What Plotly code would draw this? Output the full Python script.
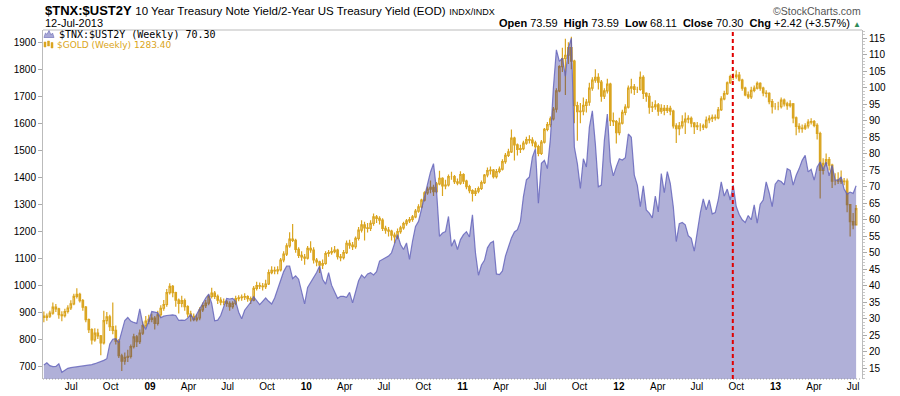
import plotly.graph_objects as go
import pandas as pd

# ---------------- data (weekly, first bar = week of 2008-04-28) ----------------
first_week = "2008-04-28"

# $TNX:$UST2Y weekly close (right axis)
ratio = [
    16.0, 16.7, 15.8, 15.5, 15.6, 16.4, 13.8, 14.5, 15.0, 15.2,
    15.3, 15.4, 15.5, 15.6, 15.7, 15.9, 16.1, 16.4, 16.7, 17.0,
    17.4, 17.9, 22.4, 23.8, 24.0, 22.8, 26.5, 29.5, 30.4, 29.3,
    28.9, 28.6, 33.0, 28.5, 26.8, 29.5, 32.2, 32.0, 31.8, 30.3,
    30.8, 31.0, 31.1, 31.2, 31.0, 29.5, 29.6, 29.5, 30.2, 31.3,
    29.8, 31.5, 33.2, 34.5, 36.3, 37.5, 34.7, 29.4, 29.6, 31.0,
    33.5, 36.2, 36.0, 36.2, 35.3, 32.0, 30.0, 32.6, 33.8, 35.0,
    36.7, 35.5, 34.3, 35.3, 36.3, 35.3, 34.5, 36.3, 39.0, 42.0,
    44.3, 46.0, 46.0, 42.2, 43.0, 42.0, 38.0, 34.5, 39.5, 41.0,
    42.4, 44.0, 46.0, 42.0, 40.5, 44.0, 40.2, 38.0, 36.2, 36.8,
    36.8, 36.5, 38.0, 34.8, 38.0, 41.5, 43.3, 42.4, 43.6, 44.0,
    43.3, 44.3, 47.5, 48.0, 48.3, 49.0, 50.0, 52.5, 55.5, 52.5,
    51.0, 53.0, 48.0, 53.5, 58.0, 59.5, 63.5, 67.5, 71.5, 74.5,
    77.0, 69.0, 55.0, 56.0, 56.4, 61.0, 52.0, 54.0, 51.0, 54.0,
    55.5, 56.4, 54.8, 61.5, 50.0, 43.2, 46.3, 47.7, 51.5, 53.0,
    53.5, 43.6, 43.4, 44.5, 49.0, 51.5, 54.5, 56.3, 57.0, 59.5,
    67.0, 72.1, 73.0, 79.0, 81.5, 65.0, 77.1, 78.0, 75.5, 84.5,
    100.0, 111.5, 108.0, 109.0, 103.5, 112.0, 115.0, 82.0, 77.0, 69.5,
    78.5, 76.0, 88.0, 93.0, 83.0, 70.0, 70.5, 84.0, 92.0, 77.5,
    73.3, 76.1, 78.5, 78.1, 78.8, 86.0, 85.0, 73.5, 70.5, 64.0,
    70.3, 63.0, 62.0, 60.6, 67.2, 62.4, 74.0, 68.2, 74.6, 71.0,
    64.0, 53.4, 58.8, 59.2, 58.5, 55.2, 54.4, 50.5, 57.0, 62.0,
    66.3, 63.0, 66.0, 61.8, 62.2, 66.0, 71.5, 67.2, 69.3, 66.0,
    70.5, 64.0, 61.6, 60.0, 59.2, 61.3, 60.0, 64.5, 59.0, 64.7,
    66.0, 71.5, 68.2, 64.0, 70.8, 72.0, 71.6, 70.6, 75.5, 75.0,
    70.5, 73.5, 75.5, 78.0, 79.5, 74.5, 75.3, 72.0, 76.0, 77.5,
    75.2, 77.5, 73.3, 76.5, 72.0, 72.0, 73.0, 69.3, 67.8, 68.4,
    68.0, 70.3,
]

# $GOLD weekly candles (left axis)
gold_open = [
    885, 880, 885, 896, 918, 912, 890, 887, 902, 915,
    930, 958, 966, 942, 918, 872, 835, 797, 822, 812,
    786, 868, 882, 846, 832, 792, 738, 718, 732, 736,
    772, 808, 790, 822, 850, 866, 873, 878, 858, 890,
    914, 928, 972, 995, 972, 944, 932, 942, 920, 893,
    884, 872, 878, 908, 924, 933, 958, 970, 958, 944,
    937, 938, 932, 920, 932, 950, 953, 955, 957, 950,
    944, 988, 998, 996, 994, 1004, 1046, 1055, 1053, 1056,
    1093, 1115, 1145, 1170, 1166, 1132, 1110, 1104, 1100, 1136,
    1130, 1093, 1086, 1074, 1080, 1117, 1120, 1124, 1130, 1105,
    1102, 1120, 1155, 1148, 1142, 1173, 1204, 1223, 1212, 1210,
    1229, 1253, 1247, 1241, 1210, 1204, 1200, 1185, 1179, 1198,
    1212, 1228, 1238, 1243, 1253, 1274, 1290, 1315, 1342, 1356,
    1362, 1346, 1375, 1396, 1368, 1371, 1402, 1402, 1383, 1378,
    1410, 1385, 1365, 1350, 1340, 1348, 1358, 1380, 1408, 1424,
    1426, 1402, 1421, 1430, 1458, 1481, 1494, 1545, 1520, 1503,
    1506, 1526, 1539, 1537, 1527, 1513, 1488, 1530, 1577, 1595,
    1616, 1652, 1720, 1810, 1840, 1852, 1880, 1830, 1665, 1643,
    1645, 1666, 1678, 1730, 1760, 1770, 1752, 1700, 1720, 1745,
    1610, 1606, 1565, 1600, 1640, 1660, 1730, 1735, 1725, 1725,
    1770, 1711, 1700, 1660, 1661, 1668, 1645, 1655, 1648, 1655,
    1645, 1590, 1580, 1590, 1605, 1615, 1618, 1600, 1587, 1590,
    1590, 1585, 1612, 1618, 1622, 1620, 1650, 1690, 1710, 1750,
    1773, 1773, 1778, 1760, 1730, 1705, 1698, 1722, 1730, 1748,
    1730, 1712, 1711, 1680, 1661, 1661, 1661, 1686, 1672, 1665,
    1672, 1620, 1588, 1580, 1582, 1590, 1604, 1606, 1592, 1562,
    1425, 1451, 1465, 1445, 1385, 1385, 1390, 1383, 1385, 1298,
    1235, 1223,
]
gold_high = [
    902, 895, 905, 935, 930, 916, 903, 912, 925, 944,
    968, 988, 972, 948, 922, 876, 840, 840, 838, 815,
    905, 900, 890, 935, 850, 800, 745, 750, 760, 780,
    820, 815, 835, 865, 885, 890, 895, 885, 905, 925,
    945, 985, 1007, 1000, 975, 950, 960, 950, 925, 905,
    895, 892, 918, 935, 945, 965, 990, 978, 965, 955,
    950, 945, 940, 940, 960, 962, 965, 970, 962, 958,
    997, 1012, 1010, 1008, 1020, 1058, 1070, 1068, 1070, 1100,
    1125, 1155, 1196, 1226, 1172, 1140, 1125, 1115, 1145, 1162,
    1140, 1100, 1090, 1095, 1125, 1130, 1140, 1145, 1135, 1115,
    1130, 1165, 1168, 1160, 1180, 1215, 1240, 1235, 1230, 1240,
    1265, 1260, 1255, 1248, 1220, 1215, 1205, 1195, 1210, 1220,
    1235, 1245, 1252, 1260, 1282, 1300, 1320, 1348, 1365, 1388,
    1372, 1382, 1424, 1400, 1390, 1410, 1420, 1408, 1395, 1422,
    1415, 1390, 1372, 1355, 1360, 1365, 1388, 1412, 1436, 1440,
    1430, 1430, 1440, 1466, 1490, 1505, 1577, 1550, 1525, 1520,
    1535, 1550, 1555, 1548, 1535, 1520, 1538, 1582, 1605, 1625,
    1660, 1730, 1815, 1880, 1913, 1900, 1921, 1835, 1680, 1675,
    1695, 1690, 1750, 1770, 1800, 1785, 1760, 1730, 1765, 1750,
    1640, 1612, 1620, 1650, 1670, 1740, 1765, 1745, 1735, 1792,
    1778, 1715, 1712, 1680, 1685, 1675, 1670, 1668, 1668, 1665,
    1650, 1600, 1605, 1630, 1640, 1630, 1625, 1605, 1605, 1600,
    1598, 1625, 1630, 1632, 1632, 1660, 1700, 1720, 1755, 1780,
    1785, 1796, 1790, 1765, 1735, 1718, 1735, 1740, 1755, 1752,
    1735, 1722, 1715, 1690, 1675, 1680, 1695, 1692, 1680, 1685,
    1675, 1625, 1600, 1595, 1600, 1615, 1618, 1612, 1600, 1568,
    1470, 1488, 1475, 1450, 1415, 1418, 1425, 1397, 1395, 1300,
    1267, 1297,
]
gold_low = [
    862, 868, 878, 890, 900, 875, 866, 880, 895, 908,
    925, 950, 935, 905, 862, 822, 780, 790, 800, 740,
    780, 855, 830, 818, 780, 730, 681, 705, 715, 728,
    765, 770, 782, 815, 842, 855, 862, 835, 850, 880,
    905, 920, 965, 955, 920, 895, 918, 905, 880, 865,
    866, 865, 870, 900, 915, 925, 950, 948, 930, 925,
    925, 920, 905, 912, 925, 940, 942, 945, 938, 930,
    940, 980, 985, 980, 985, 1000, 1040, 1040, 1040, 1050,
    1085, 1108, 1138, 1160, 1120, 1100, 1090, 1075, 1095, 1120,
    1080, 1070, 1045, 1060, 1075, 1105, 1112, 1118, 1095, 1088,
    1095, 1115, 1135, 1130, 1135, 1165, 1195, 1165, 1195, 1200,
    1220, 1230, 1225, 1200, 1190, 1180, 1165, 1155, 1170, 1190,
    1205, 1220, 1230, 1235, 1248, 1268, 1285, 1310, 1335, 1340,
    1330, 1340, 1370, 1330, 1355, 1365, 1390, 1375, 1370, 1372,
    1375, 1355, 1340, 1310, 1330, 1340, 1352, 1375, 1400, 1410,
    1395, 1395, 1415, 1425, 1450, 1475, 1490, 1462, 1480, 1490,
    1500, 1520, 1525, 1515, 1505, 1478, 1482, 1525, 1570, 1585,
    1610, 1640, 1715, 1790, 1705, 1820, 1800, 1600, 1535, 1600,
    1630, 1640, 1665, 1720, 1750, 1725, 1680, 1690, 1710, 1590,
    1590, 1525, 1555, 1595, 1630, 1655, 1710, 1705, 1712, 1720,
    1690, 1680, 1635, 1642, 1650, 1628, 1635, 1630, 1638, 1630,
    1580, 1527, 1555, 1580, 1560, 1600, 1585, 1560, 1575, 1570,
    1575, 1580, 1600, 1605, 1610, 1615, 1645, 1685, 1705, 1745,
    1760, 1765, 1755, 1720, 1700, 1690, 1690, 1715, 1725, 1720,
    1700, 1695, 1670, 1636, 1650, 1648, 1655, 1662, 1650, 1658,
    1600, 1555, 1565, 1565, 1575, 1580, 1595, 1585, 1540, 1321,
    1410, 1440, 1425, 1360, 1370, 1375, 1375, 1370, 1270, 1180,
    1207, 1222,
]
gold_close = [
    880, 885, 896, 918, 912, 890, 887, 902, 915, 930,
    958, 966, 942, 918, 872, 835, 797, 822, 812, 786,
    868, 882, 846, 832, 792, 738, 718, 732, 736, 772,
    808, 790, 822, 850, 866, 873, 878, 858, 890, 914,
    928, 972, 995, 972, 944, 932, 942, 920, 893, 884,
    872, 878, 908, 924, 933, 958, 970, 958, 944, 937,
    938, 932, 920, 932, 950, 953, 955, 957, 950, 944,
    988, 998, 996, 994, 1004, 1046, 1055, 1053, 1056, 1093,
    1115, 1145, 1170, 1166, 1132, 1110, 1104, 1100, 1136, 1130,
    1093, 1086, 1074, 1080, 1117, 1120, 1124, 1130, 1105, 1102,
    1120, 1155, 1148, 1142, 1173, 1204, 1223, 1212, 1210, 1229,
    1253, 1247, 1241, 1210, 1204, 1200, 1185, 1179, 1198, 1212,
    1228, 1238, 1243, 1253, 1274, 1290, 1315, 1342, 1356, 1362,
    1346, 1375, 1396, 1368, 1371, 1402, 1402, 1383, 1378, 1410,
    1385, 1365, 1350, 1340, 1348, 1358, 1380, 1408, 1424, 1426,
    1402, 1421, 1430, 1458, 1481, 1494, 1545, 1520, 1503, 1506,
    1526, 1539, 1537, 1527, 1513, 1488, 1530, 1577, 1595, 1616,
    1652, 1720, 1810, 1840, 1852, 1880, 1830, 1665, 1643, 1645,
    1666, 1678, 1730, 1760, 1770, 1752, 1700, 1720, 1745, 1610,
    1606, 1565, 1600, 1640, 1660, 1730, 1735, 1725, 1725, 1770,
    1711, 1700, 1660, 1661, 1668, 1645, 1655, 1648, 1655, 1645,
    1590, 1580, 1590, 1605, 1615, 1618, 1600, 1587, 1590, 1590,
    1585, 1612, 1618, 1622, 1620, 1650, 1690, 1710, 1750, 1773,
    1773, 1778, 1760, 1730, 1705, 1698, 1722, 1730, 1748, 1730,
    1712, 1711, 1680, 1661, 1661, 1661, 1686, 1672, 1665, 1672,
    1620, 1588, 1580, 1582, 1590, 1604, 1606, 1592, 1562, 1425,
    1451, 1465, 1445, 1385, 1385, 1390, 1383, 1385, 1298, 1235,
    1223, 1283.4,
]

tick_dates = [
    "2008-07-01", "2008-10-01", "2009-01-01", "2009-04-01", "2009-07-01",
    "2009-10-01", "2010-01-01", "2010-04-01", "2010-07-01", "2010-10-01",
    "2011-01-01", "2011-04-01", "2011-07-01", "2011-10-01", "2012-01-01",
    "2012-04-01", "2012-07-01", "2012-10-01", "2013-01-01", "2013-04-01",
    "2013-07-01",
]
tick_labels = [
    "Jul", "Oct", "<b>09</b>", "Apr", "Jul", "Oct", "<b>10</b>", "Apr", "Jul", "Oct",
    "<b>11</b>", "Apr", "Jul", "Oct", "<b>12</b>", "Apr", "Jul", "Oct", "<b>13</b>",
    "Apr", "Jul",
]
marker_date = "2012-09-23"

title_symbol = "$TNX:$UST2Y"
title_desc = "10 Year Treasury Note Yield/2-Year US Treasury Yield (EOD)"
title_exch = "INDX/INDX"
chart_date = "12-Jul-2013"
legend_ratio = "$TNX:$UST2Y (Weekly) 70.30"
legend_gold = "$GOLD (Weekly) 1283.40"
quote_open, quote_high, quote_low, quote_close = "73.59", "73.59", "68.11", "70.30"
quote_chg = "+2.42 (+3.57%)"

# ---------------- styling ----------------
GOLD = "#DAA520"
W, H = 900, 396
L, R, T, B = 43, 862, 30, 379   # plot area in pixels
FONT = "Liberation Sans, Arial, sans-serif"

def px(x):
    return (x - L) / (R - L)

def py(y):
    return (B - y) / (B - T)

weeks = pd.date_range(first_week, periods=len(ratio), freq="7D")

fig = go.Figure()
fig.add_trace(go.Candlestick(
    x=weeks, open=gold_open, high=gold_high, low=gold_low, close=gold_close,
    xaxis="x", yaxis="y",
    increasing=dict(line=dict(color=GOLD, width=1.2), fillcolor="rgba(0,0,0,0)"),
    decreasing=dict(line=dict(color=GOLD, width=1.2), fillcolor=GOLD),
    whiskerwidth=0, showlegend=False, hoverinfo="skip",
))
fig.add_trace(go.Scatter(
    x=weeks, y=ratio, xaxis="x", yaxis="y2", mode="lines",
    fill="tozeroy", fillcolor="rgba(36,36,147,0.36)",
    line=dict(color="rgba(95,95,185,0.8)", width=1.2),
    showlegend=False, hoverinfo="skip",
))

sep = "\u00a0\u00a0"
ohlc_text = (
    f"<b>Open</b> {quote_open}{sep}<b>High</b> {quote_high}{sep}<b>Low</b> {quote_low}"
    f"{sep}<b>Close</b> {quote_close}{sep}<b>Chg</b> {quote_chg} "
    "<span style='color:#2E8B57;font-size:8px'>▲</span>"
)

annotations = [
    dict(text=(f"<b>{title_symbol}</b> <span style='font-size:11.5px'>{title_desc}</span>"
               f" <span style='font-size:9px'>{title_exch}</span>"),
         x=px(43), y=py(10.5), xanchor="left", yanchor="middle",
         font=dict(size=13, color="black", family=FONT)),
    dict(text=chart_date, x=px(42.5), y=py(23.5), xanchor="left", yanchor="middle",
         font=dict(size=11, color="black", family=FONT)),
    dict(text="©StockCharts.com", x=px(863), y=py(10.5), xanchor="right", yanchor="middle",
         font=dict(size=10.5, color="#555555", family=FONT)),
    dict(text=ohlc_text, x=px(863), y=py(23.5), xanchor="right", yanchor="middle",
         font=dict(size=11, color="black", family=FONT)),
    dict(text=legend_ratio, x=px(57), y=py(34.3), xanchor="left", yanchor="middle",
         font=dict(size=10, color="black", family="DejaVu Sans Mono, monospace")),
    dict(text=legend_gold, x=px(55), y=py(44.7), xanchor="left", yanchor="middle",
         font=dict(size=9, color=GOLD, family="DejaVu Sans, sans-serif")),
]
for a in annotations:
    a.update(xref="paper", yref="paper", showarrow=False)

def pts(points):
    return "M " + " L ".join(f"{px(x):.5f},{py(y):.5f}" for x, y in points) + " Z"

shapes = [
    # top border
    dict(type="line", xref="paper", yref="paper", x0=0, x1=1, y0=1, y1=1,
         line=dict(color="#BBBBBB", width=1)),
    # dotted bottom axis
    dict(type="line", xref="paper", yref="paper", x0=0, x1=1, y0=0, y1=0,
         line=dict(color="#999999", width=1, dash="1px,2px")),
    # red dashed marker
    dict(type="line", xref="x", yref="paper", x0=marker_date, x1=marker_date, y0=0, y1=1,
         line=dict(color="#E00000", width=2, dash="4px,3px")),
    # legend icons
    dict(type="path", xref="paper", yref="paper",
         path=pts([(44, 37.5), (45.5, 33), (47, 34.5), (49, 30.5), (51, 35), (52.5, 33), (54, 37.5)]),
         fillcolor="#A8A8D6", line=dict(color="#8080C0", width=0.8)),
]
for (x0, y0, x1, y1) in [(44, 42, 46, 47), (47.5, 41, 49.5, 46), (51, 42.5, 53, 48)]:
    shapes.append(dict(type="rect", xref="paper", yref="paper",
                       x0=px(x0), x1=px(x1), y0=py(y1), y1=py(y0),
                       fillcolor=GOLD, line=dict(color=GOLD, width=0.5)))

fig.update_layout(
    width=W, height=H,
    margin=dict(l=L, r=W - R, t=T, b=H - B, pad=0),
    paper_bgcolor="white", plot_bgcolor="white",
    font=dict(family=FONT, size=10, color="black"),
    showlegend=False,
    xaxis=dict(
        type="date", range=["2008-04-26", "2013-07-21 18:00"],
        tickmode="array", tickvals=tick_dates, ticktext=tick_labels,
        showgrid=False, showline=False, zeroline=False, ticks="", ticklen=0,
        tickfont=dict(size=10, color="black", family=FONT),
        rangeslider=dict(visible=False), automargin=False, fixedrange=True,
    ),
    yaxis=dict(
        range=[651.8, 1945.6], tickmode="linear", tick0=700, dtick=100,
        showgrid=False, zeroline=False, showline=True, linecolor="#BBBBBB", linewidth=1,
        ticks="outside", ticklen=4, tickcolor="#AAAAAA",
        tickfont=dict(size=10, color="black", family=FONT),
        automargin=False, fixedrange=True,
    ),
    yaxis2=dict(
        overlaying="y", side="right",
        range=[11.76, 117.5], tickmode="linear", tick0=15, dtick=5,
        showgrid=False, zeroline=False, showline=True, linecolor="#BBBBBB", linewidth=1,
        ticks="outside", ticklen=4, tickcolor="#AAAAAA",
        minor=dict(dtick=1, ticks="outside", ticklen=2, tickcolor="#C8C8C8", showgrid=False),
        tickfont=dict(size=10, color="black", family=FONT),
        automargin=False, fixedrange=True,
    ),
    annotations=annotations,
    shapes=shapes,
)

fig.write_html(
    "out.html",
    config={"displayModeBar": False, "staticPlot": True},
    post_script="document.body.style.margin='0px';document.body.style.overflow='hidden';",
)
